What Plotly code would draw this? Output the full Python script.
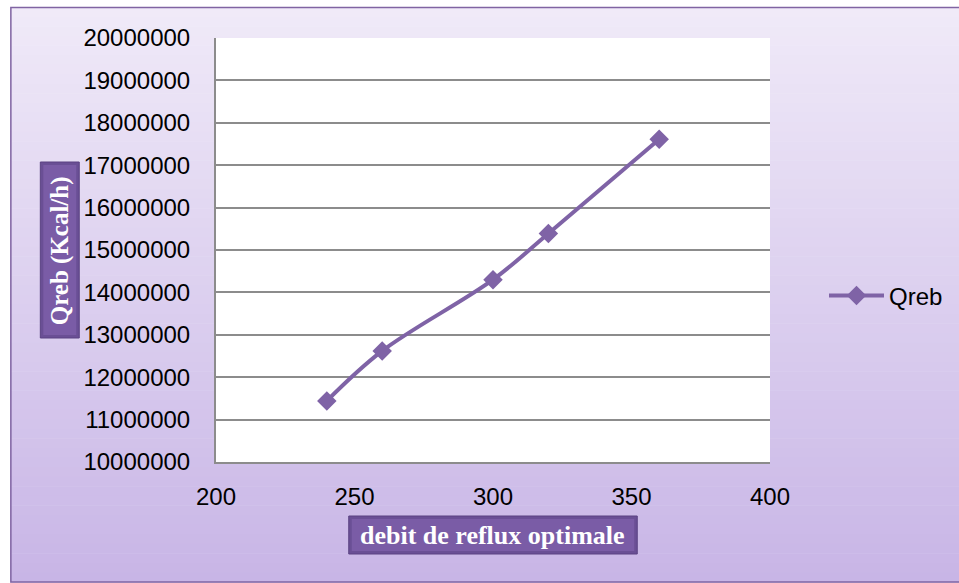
import plotly.graph_objects as go

# data
reflux = [240, 260, 300, 320, 360]
qreb = [11440000, 12620000, 14300000, 15390000, 17610000]

x_ticks = [200, 250, 300, 350, 400]
y_ticks = list(range(10000000, 20000001, 1000000))

W, H = 959, 583
L, R, T, B = 216, 771, 38, 462


def px2x(px):
    return (px - L) / (R - L)


def py2y(py):
    return (B - py) / (B - T)


def mix(c1, c2, t):
    return "rgb(%d,%d,%d)" % tuple(round(a + (b - a) * t) for a, b in zip(c1, c2))


fig = go.Figure()
fig.add_trace(
    go.Scatter(
        x=reflux,
        y=qreb,
        mode="lines+markers",
        name="Qreb",
        line=dict(color="#7f63a6", width=4, shape="spline", smoothing=1.0),
        marker=dict(symbol="diamond", size=15, color="#7f63a6"),
    )
)

shapes = []
# gradient background inside the outer frame
top_c, bot_c = (240, 234, 248), (200, 181, 230)
n = 60
y0, y1 = 7, 582
for i in range(n):
    a = y0 + (y1 - y0) * i / n
    b = y0 + (y1 - y0) * (i + 1) / n
    shapes.append(dict(type="rect", xref="paper", yref="paper", layer="below",
                       x0=px2x(10), x1=px2x(962), y0=py2y(b + 0.5), y1=py2y(a),
                       fillcolor=mix(top_c, bot_c, (i + 0.5) / n), line_width=0))
# outer frame
shapes.append(dict(type="rect", xref="paper", yref="paper", layer="below",
                   x0=px2x(10.5), x1=px2x(962), y0=py2y(582), y1=py2y(7.5),
                   fillcolor="rgba(0,0,0,0)", line=dict(color="#8064a2", width=1.5)))
# white plot area
shapes.append(dict(type="rect", xref="paper", yref="paper", layer="below",
                   x0=0, x1=1, y0=0, y1=1, fillcolor="white", line_width=0))
# axis title boxes (bevelled look: darker base, lighter inner panel)
for bx0, bx1, by0, by1 in [(40, 79, 162, 338), (349, 638, 516, 554)]:
    shapes.append(dict(type="rect", xref="paper", yref="paper",
                       x0=px2x(bx0), x1=px2x(bx1), y0=py2y(by1), y1=py2y(by0),
                       fillcolor="#6a4f95", line=dict(color="#5a4282", width=1)))
    shapes.append(dict(type="rect", xref="paper", yref="paper",
                       x0=px2x(bx0 + 3), x1=px2x(bx1 - 3), y0=py2y(by1 - 3), y1=py2y(by0 + 3),
                       fillcolor="#7a5ca6", line_width=0))

annotations = [
    dict(text="<b>Qreb (Kcal/h)</b>", xref="paper", yref="paper",
         x=px2x(60), y=py2y(251), xanchor="center", yanchor="middle",
         textangle=-90, showarrow=False,
         font=dict(family="Liberation Serif", size=25, color="white")),
    dict(text="<b>debit de reflux optimale</b>", xref="paper", yref="paper",
         x=px2x(493), y=py2y(535), xanchor="center", yanchor="middle",
         showarrow=False,
         font=dict(family="Liberation Serif", size=26, color="white")),
]

fig.update_layout(
    width=W,
    height=H,
    margin=dict(l=L, r=W - R, t=T, b=H - B),
    paper_bgcolor="white",
    plot_bgcolor="white",
    shapes=shapes,
    annotations=annotations,
    showlegend=True,
    legend=dict(x=px2x(824), y=py2y(296), xanchor="left", yanchor="middle",
                itemwidth=55,
                bgcolor="rgba(0,0,0,0)", font=dict(family="Liberation Sans", size=24, color="black")),
    font=dict(family="Liberation Sans", size=24, color="black"),
    xaxis=dict(range=[200, 400], tickvals=x_ticks, showgrid=False, zeroline=False,
               showline=True, linecolor="#8c8c8c", linewidth=2, ticks="",
               ticklabelstandoff=12),
    yaxis=dict(range=[10000000, 20000000], tickvals=y_ticks, tickformat="d",
               showgrid=True, gridcolor="#8c8c8c", gridwidth=1.5, zeroline=False,
               showline=True, linecolor="#8c8c8c", linewidth=2, ticks="",
               ticklabelstandoff=19),
)

fig.write_html("out.html", config={"displayModeBar": False},
               post_script="document.body.style.margin='0';")
